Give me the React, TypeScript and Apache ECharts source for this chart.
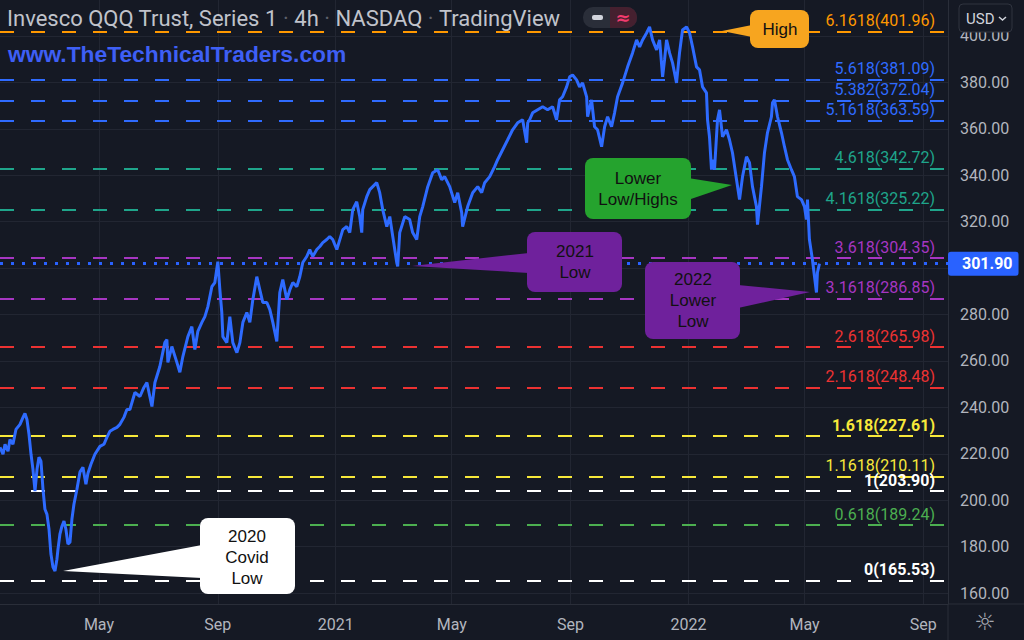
import React, { useEffect, useRef } from "react";
import * as echarts from "echarts";

// x values are day numbers counted from 2020-01-01 (day 0)
const days = [
  18.6, 21.7, 23.8, 26.9, 28.9, 32.0, 35.1, 39.3, 42.4, 44.4, 46.5, 48.6, 50.7, 52.7, 54.8, 56.9, 58.9, 61.0,
  63.1, 65.1, 67.2, 69.3, 71.3, 73.4, 75.5, 77.5, 78.6, 80.6, 82.7, 84.8, 86.8, 88.9, 91.0, 93.0, 95.1, 98.2,
  101.3, 104.4, 107.5, 109.6, 112.7, 116.8, 122.0, 126.1, 129.2, 132.3, 135.4, 139.6, 142.7, 146.8, 149.9, 153.0,
  158.2, 163.4, 167.5, 170.6, 175.8, 178.9, 184.0, 189.2, 191.3, 192.3, 196.4, 201.6, 204.7, 207.8, 213.0, 217.1,
  220.2, 223.3, 227.5, 230.6, 233.7, 237.8, 240.9, 244.0, 246.1, 248.1, 249.2, 253.3, 256.4, 259.5, 263.7, 266.8,
  269.9, 274.0, 277.1, 280.2, 284.3, 287.4, 290.5, 294.7, 297.8, 300.9, 305.0, 308.1, 311.2, 315.4, 318.5, 321.6,
  325.7, 328.8, 331.9, 336.0, 339.1, 342.2, 346.4, 349.5, 352.6, 356.7, 359.8, 362.9, 367.1, 370.2, 373.3, 377.4,
  380.5, 383.6, 387.7, 390.8, 392.9, 393.9, 398.1, 401.2, 404.3, 408.4, 411.5, 414.6, 418.8, 421.9, 425.0, 429.1,
  430.1, 432.2, 437.4, 442.5, 445.6, 449.8, 452.9, 456.0, 461.2, 466.3, 471.5, 475.6, 478.7, 483.9, 489.1, 492.2,
  496.3, 497.3, 502.5, 507.7, 512.9, 517.0, 520.1, 525.3, 530.4, 533.5, 538.7, 543.9, 549.0, 554.2, 559.4, 563.5,
  564.6, 566.6, 569.7, 574.9, 580.1, 585.2, 590.4, 594.5, 597.6, 600.7, 604.9, 608.0, 611.1, 615.2, 618.3, 621.4,
  625.6, 626.6, 630.7, 633.8, 636.9, 641.1, 644.2, 647.3, 651.4, 654.5, 657.6, 662.8, 668.0, 673.1, 677.3, 680.4,
  683.5, 687.6, 690.7, 693.8, 698.0, 701.1, 704.2, 706.2, 708.3, 711.4, 714.5, 718.6, 721.7, 724.8, 729.0, 732.1,
  735.2, 739.3, 742.4, 745.5, 749.6, 750.7, 752.7, 754.8, 755.8, 757.9, 761.0, 763.1, 766.2, 770.3, 773.4, 776.5,
  780.7, 783.8, 786.9, 791.0, 794.1, 797.2, 801.3, 802.4, 806.5, 809.6, 812.7, 816.8, 817.9, 819.9, 823.1, 827.2,
  830.3, 833.4, 837.5, 840.6, 843.7, 847.9, 851.0, 853.0, 854.1, 856.1, 859.2, 863.4, 864.4, 866.5,
];

const closes = [
  222.8, 219.8, 224.1, 221.1, 226.2, 224.1, 230.5, 232.7, 235.7, 237.4, 234.8, 228.4, 219.8, 213.3, 203.9, 213.3, 218.5, 216.8,
  204.7, 196.1, 193.9, 187.5, 176.8, 171.2, 169.5, 174.6, 178.9, 185.4, 188.8, 191.0, 187.5, 181.1, 181.9, 191.8, 198.3, 204.7,
  212.1, 214.2, 206.9, 211.6, 215.5, 219.8, 223.2, 224.1, 227.1, 229.7, 230.5, 231.4, 232.7, 235.7, 239.1, 239.1,
  246.4, 244.7, 248.6, 250.7, 240.4, 250.7, 257.6, 268.0, 269.2, 259.4, 266.2, 259.4, 255.1, 261.9, 270.5, 274.8,
  264.9, 272.7, 276.6, 279.1, 283.4, 292.0, 293.8, 302.8, 290.7, 280.9, 270.5, 267.9, 279.1, 267.9, 263.6, 267.9,
  276.6, 280.9, 276.6, 286.4, 296.3, 290.7, 285.2, 285.2, 282.1, 276.6, 268.4, 289.5, 295.1, 286.4, 290.7, 293.8,
  292.0, 296.3, 302.4, 305.0, 308.0, 305.0, 308.0, 309.3, 311.0, 312.3, 313.6, 312.3, 308.0, 312.3, 316.6, 317.9,
  315.3, 325.2, 328.6, 322.2, 315.3, 325.2, 330.8, 333.8, 335.1, 336.8, 332.5, 325.2, 317.9, 322.2, 313.6, 302.4,
  300.7, 315.3, 322.2, 320.9, 315.3, 312.3, 322.2, 326.5, 335.1, 341.1, 342.4, 338.1, 339.4, 335.1, 328.2, 332.5,
  323.9, 317.9, 326.5, 332.5, 335.1, 332.5, 336.8, 339.4, 343.7, 346.7, 351.0, 355.3, 359.6, 362.6, 363.9, 354.0,
  362.6, 363.9, 366.9, 368.2, 369.5, 368.2, 369.5, 363.9, 372.5, 373.8, 378.1, 382.4, 383.2, 381.1, 378.1, 379.8,
  373.8, 365.2, 372.5, 360.9, 359.6, 352.3, 360.9, 365.2, 360.9, 366.9, 373.8, 379.8, 386.7, 392.7, 398.3, 395.3,
  398.3, 401.3, 403.9, 398.3, 394.0, 398.3, 382.4, 389.7, 398.3, 392.7, 388.4, 379.8, 392.7, 402.6, 403.9, 401.3,
  395.3, 386.7, 385.4, 378.1, 375.5, 363.9, 356.6, 342.4, 346.7, 342.4, 363.9, 368.2, 356.6, 359.6, 355.3, 349.7,
  338.1, 329.5, 339.4, 348.0, 345.4, 335.1, 326.5, 318.7, 335.1, 349.7, 358.3, 365.2, 371.2, 372.5, 365.2, 358.3,
  352.3, 346.7, 342.4, 339.4, 330.8, 329.5, 326.5, 320.9, 329.5, 312.3, 303.7, 289.5, 298.1, 301.9,
];

const lastPrice = 301.9;

const fibRatios = ["6.1618", "5.618", "5.382", "5.1618", "4.618", "4.1618", "3.618", "3.1618", "2.618", "2.1618", "1.618", "1.1618", "1", "0.618", "0"];
const fibPrices = [401.96, 381.09, 372.04, 363.59, 342.72, 325.22, 304.35, 286.85, 265.98, 248.48, 227.61, 210.11, 203.9, 189.24, 165.53];

const gridTicks = [160, 180, 200, 220, 240, 260, 280, 300, 320, 340, 360, 380, 400];
const yTickLabels = [160, 180, 200, 220, 240, 260, 280, 320, 340, 360, 380, 400];
const xTickDays = [121, 244, 366, 486, 609, 731, 851, 974];
const xTickLabels = ["May", "Sep", "2021", "May", "Sep", "2022", "May", "Sep"];

// styles
const fibColors = [
  "#ff9800", "#2f6bff", "#2f6bff", "#2f6bff", "#1fa58b", "#1fa58b", "#a636c2", "#a636c2",
  "#ec3232", "#ec3232", "#f7e83a", "#f7e83a", "#ffffff", "#4caf50", "#ffffff",
];
const fibBold = [false, false, false, false, false, false, false, false, false, false, true, false, true, false, true];

const BG = "#151924";
const AXIS_TXT = "#b2b5be";
const GRID = "#222632";
const PURPLE = "#6f219c";

export default function App() {
  const ref = useRef<HTMLDivElement>(null);

  useEffect(() => {
    const chart = echarts.init(ref.current as HTMLDivElement, null, { renderer: "svg" });

    const gridLines: any[] = [
      ...xTickDays.map((d) => ({ xAxis: d, lineStyle: { color: GRID, width: 1, type: "solid" }, label: { show: false } })),
      ...gridTicks.map((v) => ({ yAxis: v, lineStyle: { color: GRID, width: 1, type: "solid" }, label: { show: false } })),
    ];
    const fibLines: any[] = fibPrices.map((p, i) => ({
      yAxis: p,
      lineStyle: { color: fibColors[i], width: 2.2, type: [14, 17] },
      label: {
        show: true,
        position: "insideEndTop",
        formatter: `${fibRatios[i]}(${p.toFixed(2)})`,
        color: fibColors[i],
        fontSize: 16,
        fontFamily: "Roboto",
        fontWeight: fibBold[i] ? "bold" : "normal",
        distance: [13, 3],
      },
    }));
    const lastLine: any = {
      yAxis: lastPrice,
      lineStyle: { color: "#2962ff", width: 3, type: [3, 8] },
      label: {
        show: true,
        position: "end",
        formatter: lastPrice.toFixed(2),
        color: "#ffffff",
        backgroundColor: "#2962ff",
        fontSize: 16,
        fontWeight: "bold",
        fontFamily: "Roboto",
        padding: [4, 6, 4, 14],
        borderRadius: 3,
        distance: 0,
      },
    };

    const callout = (box: number[], tri: number[][], fill: string, text: string, cx: number, cy: number, lh: number) => [
      { type: "polygon", z: 20, shape: { points: tri }, style: { fill } },
      { type: "rect", z: 20, shape: { x: box[0], y: box[1], width: box[2], height: box[3], r: 8 }, style: { fill } },
      {
        type: "text", z: 21, x: cx, y: cy,
        style: { text, fill: "#111111", fontSize: 17, fontFamily: "Liberation Sans", align: "center", verticalAlign: "middle", lineHeight: lh },
      },
    ];

    const option: any = {
      animation: false,
      backgroundColor: BG,
      grid: { left: 0, right: 76, top: 0, bottom: 36, containLabel: false },
      xAxis: {
        type: "value",
        min: 18.6,
        max: 999.5,
        splitLine: { show: false },
        axisTick: { show: false },
        axisLine: { show: true, lineStyle: { color: "#2a2e39", width: 1 } },
        axisLabel: {
          customValues: xTickDays,
          color: AXIS_TXT,
          fontSize: 16,
          fontFamily: "Roboto",
          margin: 12,
          formatter: (v: number) => {
            const i = xTickDays.indexOf(Math.round(v));
            return i >= 0 ? xTickLabels[i] : "";
          },
        },
      },
      yAxis: {
        type: "value",
        position: "right",
        min: 155.3,
        max: 415.5,
        splitLine: { show: false },
        axisTick: { show: false },
        axisLine: { show: true, lineStyle: { color: "#2a2e39", width: 1 } },
        axisLabel: {
          customValues: yTickLabels,
          color: AXIS_TXT,
          fontSize: 16,
          fontFamily: "Roboto",
          margin: 12,
          formatter: (v: number) => v.toFixed(2),
        },
      },
      series: [
        {
          type: "line",
          data: days.map((d, i) => [d, closes[i]]),
          showSymbol: false,
          symbol: "none",
          z: 2,
          lineStyle: { color: "#2e6bff", width: 3 },
          markLine: {
            z: 1,
            silent: true,
            symbol: ["none", "none"],
            animation: false,
            data: [...gridLines, ...fibLines, lastLine],
          },
        },
      ],
      graphic: [
        {
          type: "text", x: 7, y: 18, z: 15,
          style: {
            text: "{t|Invesco QQQ Trust, Series 1}{s| · }{t|4h}{s| · }{t|NASDAQ}{s| · }{t|TradingView}",
            verticalAlign: "middle",
            rich: {
              t: { fill: "#c0c3cb", fontSize: 22, fontFamily: "Roboto" },
              s: { fill: "#5d606b", fontSize: 22, fontFamily: "Roboto" },
            },
          },
        },
        {
          type: "text", x: 8, y: 54, z: 15,
          style: { text: "www.TheTechnicalTraders.com", fill: "#3e5ff5", fontSize: 22.8, fontWeight: "bold", fontFamily: "Liberation Sans", verticalAlign: "middle" },
        },
        // toggle pill
        { type: "rect", z: 15, shape: { x: 583, y: 7, width: 54, height: 21, r: 10 }, style: { fill: "#2a2e39" } },
        { type: "rect", z: 15, shape: { x: 610, y: 7, width: 27, height: 21, r: [0, 10, 10, 0] }, style: { fill: "#45202f" } },
        { type: "rect", z: 16, shape: { x: 592, y: 15, width: 11, height: 5, r: 2 }, style: { fill: "#d1d4dc" } },
        { type: "text", z: 16, x: 623, y: 17, style: { text: "≈", fill: "#f23b6e", fontSize: 18, fontWeight: "bold", fontFamily: "DejaVu Sans", align: "center", verticalAlign: "middle" } },
        // USD button
        { type: "rect", z: 15, shape: { x: 959, y: 4, width: 53, height: 28, r: 4 }, style: { fill: "#151924", stroke: "#30343f", lineWidth: 1 } },
        { type: "text", z: 16, x: 966, y: 18.5, style: { text: "USD", fill: "#d1d4dc", fontSize: 15, fontFamily: "Roboto", verticalAlign: "middle" } },
        { type: "polyline", z: 16, shape: { points: [[999, 17], [1002.5, 20], [1006, 17]] }, style: { stroke: "#d1d4dc", lineWidth: 1.5, fill: null } },
        // axis corner separators
        { type: "line", z: 15, shape: { x1: 948, y1: 604, x2: 948, y2: 640 }, style: { stroke: "#2a2e39", lineWidth: 1 } },
        { type: "line", z: 15, shape: { x1: 948, y1: 604, x2: 1024, y2: 604 }, style: { stroke: "#2a2e39", lineWidth: 1 } },
        { type: "text", z: 16, x: 985, y: 622, style: { text: "☼", fill: "#a3a6af", fontSize: 24, fontFamily: "DejaVu Sans", align: "center", verticalAlign: "middle" } },
        // callouts
        ...callout([750, 10, 59, 38], [[722, 31], [752, 25], [752, 37]], "#f7a51f", "High", 780, 29, 21),
        ...callout([585, 158, 106, 61], [[688, 178], [732, 185], [688, 200]], "#25a32e", "Lower\nLow/Highs", 638, 189, 21),
        ...callout([527, 232, 95, 60], [[412, 266], [529, 253], [529, 273]], PURPLE, "2021\nLow", 575, 262, 21),
        ...callout([645, 262, 95, 77], [[738, 285], [810, 292], [738, 308]], PURPLE, "2022\nLower\nLow", 693, 300, 21),
        ...callout([200, 518, 95, 76], [[63, 571], [202, 545], [202, 578]], "#ffffff", "2020\nCovid\nLow", 247, 557, 21),
      ],
    };

    chart.setOption(option);
    return () => chart.dispose();
  }, []);

  return <div ref={ref} style={{ position: "absolute", left: 0, top: 0, width: 1024, height: 640 }} />;
}
